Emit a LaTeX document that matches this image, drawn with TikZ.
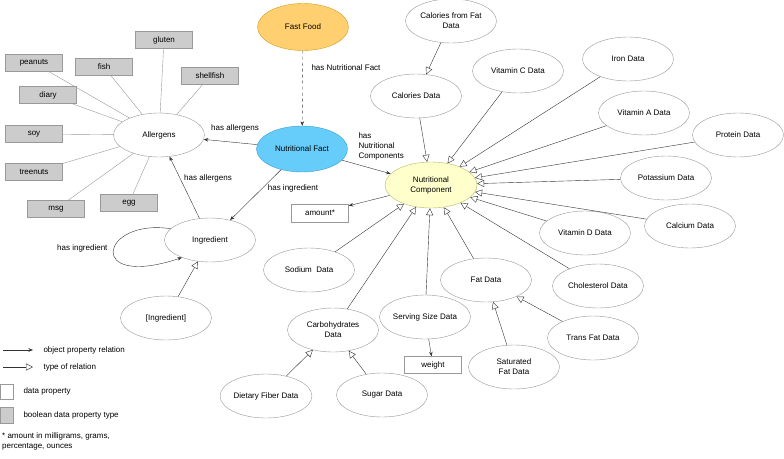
\documentclass[tikz,border=0pt]{standalone}
\usepackage{fontspec}
\setmainfont{Liberation Sans}
\usetikzlibrary{shapes.geometric,arrows.meta}
\definecolor{FoodOrange}{HTML}{FFCF70}
\definecolor{FoodOrangeLine}{HTML}{D99A1E}
\definecolor{FactBlue}{HTML}{66CCFA}
\definecolor{FactBlueLine}{HTML}{3A9FD6}
\definecolor{CompYellow}{HTML}{FFFFCC}
\definecolor{CompYellowLine}{HTML}{B8B86A}
\definecolor{BoxGray}{HTML}{CCCCCC}
\definecolor{LineGray}{HTML}{999999}
\definecolor{LineDark}{HTML}{333333}
\tikzset{
  concept/.style={ellipse,draw=LineGray,fill=white,minimum width=91pt,minimum height=44pt,inner sep=0pt,align=center},
  datbox/.style={rectangle,draw=LineGray,fill=white,minimum width=57pt,minimum height=17pt,inner sep=0pt},
  boolbox/.style={datbox,fill=BoxGray},
  objrel/.style={draw=LineDark,-{Stealth[length=4.5pt,width=3.5pt]}},
  typerel/.style={draw=LineDark,-{Triangle[length=7pt,width=7pt,fill=white]}},
  allerg/.style={draw=LineGray}
}

\begin{document}
\begin{tikzpicture}[x=1pt,y=-1pt,font=\fontsize{8}{10}\selectfont]
  \useasboundingbox (0,0) rectangle (784,458);
  % main concepts
  \node[concept,fill=FoodOrange,draw=FoodOrangeLine,minimum height=47pt] (food) at (303,27) {Fast Food};
  \node[concept,fill=FactBlue,draw=FactBlueLine,minimum height=46pt] (fact) at (302,149) {Nutritional Fact};
  \node[concept,fill=CompYellow,draw=CompYellowLine,minimum width=92pt,minimum height=46pt] (comp) at (431,185) {Nutritional\\Component};
  \node[concept] (allergens) at (159,135) {Allergens};
  \node[concept] (ingr) at (210,240) {Ingredient};
  \node[concept] (ingrlist) at (166,318) {[Ingredient]};

  % allergen types
  \node[boolbox] (gluten) at (164,40) {gluten}; \node[boolbox] (peanuts) at (34,63) {peanuts};
  \node[boolbox] (fish) at (104,67) {fish}; \node[boolbox] (shellfish) at (210,76) {shellfish};
  \node[boolbox] (diary) at (48,95) {diary}; \node[boolbox] (soy) at (34,134) {soy};
  \node[boolbox] (treenuts) at (34,172) {treenuts}; \node[boolbox] (msg) at (56,209) {msg};
  \node[boolbox] (egg) at (129,203) {egg};
  \foreach \a in {gluten,peanuts,fish,shellfish,diary,soy,treenuts,msg,egg}
    \draw[allerg] (allergens) -- (\a);

  % nutrition data
  \node[concept] (calfat) at (451,21) {Calories from Fat\\Data};
  \node[concept] (cal) at (416,96) {Calories Data};
  \node[concept] (vitc) at (518,71) {Vitamin C Data};
  \node[concept] (iron) at (628,59) {Iron Data};
  \node[concept] (vita) at (644,113) {Vitamin A Data};
  \node[concept] (protein) at (738,135) {Protein Data};
  \node[concept] (potassium) at (666,178) {Potassium Data};
  \node[concept] (calcium) at (690,226) {Calcium Data};
  \node[concept] (vitd) at (585,233) {Vitamin D Data};
  \node[concept] (chol) at (598,286) {Cholesterol Data};
  \node[concept] (fat) at (486,280) {Fat Data};
  \node[concept] (transfat) at (593,338) {Trans Fat Data};
  \node[concept] (satfat) at (514,367) {Saturated\\Fat Data};
  \node[concept] (serving) at (425,317) {Serving Size Data};
  \node[concept] (carb) at (333,330) {Carbohydrates\\Data};
  \node[concept] (fiber) at (266,396) {Dietary Fiber Data};
  \node[concept] (sugar) at (382,395) {Sugar Data};
  \node[concept] (sodium) at (309,270) {Sodium\ \ Data};
  \node[datbox,minimum height=18pt] (amount) at (320,213) {amount*};
  \node[datbox] (weight) at (433,365) {weight};

  % object property relations
  \draw[objrel,dashed] (food) -- (fact);
  \draw[objrel] (fact) -- (allergens);
  \draw[objrel] (fact) -- (comp);
  \draw[objrel] (fact) -- (ingr);
  \draw[objrel] (ingr) -- (allergens);
  \draw[objrel] (ingr.164) .. controls (100,218) and (85,290) .. (ingr.212);
  \draw[objrel] (comp) -- (amount);
  \draw[objrel] (serving) -- (weight);
  \node[anchor=west] (lblfood) at (308,68) {has Nutritional Fact};
  \node (lblallerg) at (235,128) {has allergens};
  \node[anchor=west,align=left] (lblcomp) at (355,146) {has\\Nutritional\\Components};
  \node (lblingr) at (293,188) {has ingredient};
  \node (lblingallerg) at (208,178) {has allergens};
  \node[anchor=east] (lblloop) at (111,248) {has ingredient};

  % type relations
  \draw[typerel] (calfat) -- (cal);
  \foreach \d in {cal,vitc,iron,vita,protein,potassium,calcium,vitd,chol,fat,serving,carb,sodium}
    \draw[typerel] (\d) -- (comp);
  \draw[typerel] (transfat) -- (fat); \draw[typerel] (satfat) -- (fat);
  \draw[typerel] (fiber) -- (carb); \draw[typerel] (sugar) -- (carb);
  \draw[typerel] (ingrlist) -- (ingr);

  % legend
  \coordinate (objA) at (3,350); \coordinate (objB) at (33,350);
  \coordinate (typA) at (3,367); \coordinate (typB) at (33,367);
  \draw[objrel] (objA) -- (objB); \draw[typerel] (typA) -- (typB);
  \node[anchor=west] (legobj) at (40,350) {object property relation};
  \node[anchor=west] (legtyp) at (40,367) {type of relation};
  \node[datbox,minimum width=13pt,minimum height=15pt] (legdat) at (7,391.5) {};
  \node[boolbox,minimum width=13pt,minimum height=16pt] (legbool) at (7,415) {};
  \node[anchor=west] (legdattxt) at (20,391.5) {data property};
  \node[anchor=west] (legbooltxt) at (20,415) {boolean data property type};
  \node[anchor=north west,align=left,inner sep=1pt] (footnote) at (1,431) {* amount in milligrams, grams,\\percentage, ounces};
\end{tikzpicture}
\end{document}
